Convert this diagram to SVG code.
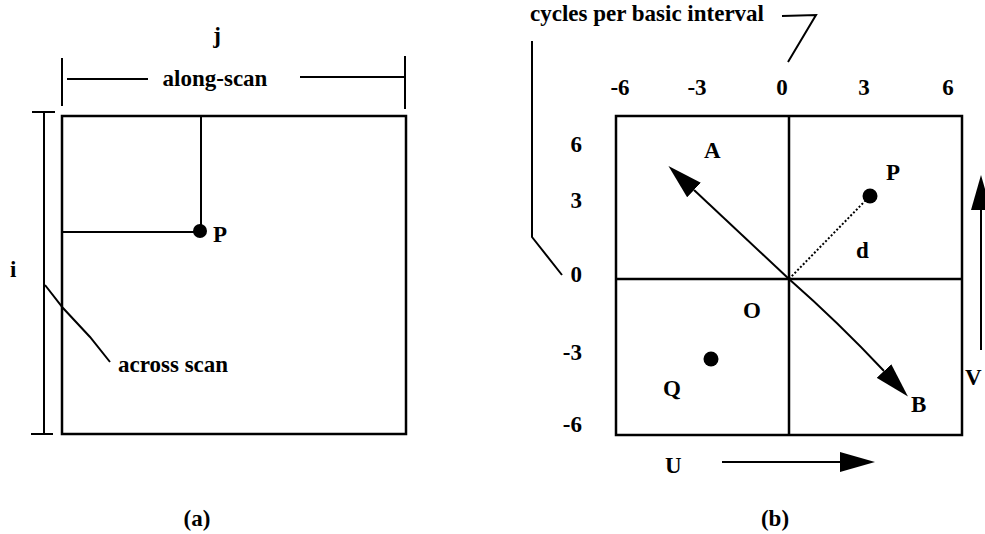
<svg xmlns="http://www.w3.org/2000/svg" width="985" height="534" viewBox="0 0 985 534">
<style>
  text { font-family: "Liberation Serif", "Times New Roman", serif; font-weight: bold; font-size: 23px; fill: #000; }
  .ln { stroke: #000; stroke-width: 2; fill: none; }
  .bx { stroke: #000; stroke-width: 2.5; fill: none; }
  .dot { fill: #000; }
  .mid { text-anchor: middle; }
  .end { text-anchor: end; }
</style>
<defs>
  <marker id="head" viewBox="0 0 35 20" refX="0" refY="10" markerWidth="35" markerHeight="20" markerUnits="userSpaceOnUse" orient="auto">
    <path d="M0,0 L35,10 L0,20 z" fill="#000"/>
  </marker>
</defs>
<rect width="985" height="534" fill="#fff"/>

<!-- Panel (a) -->
<g id="panel-a">
  <rect class="bx" x="62" y="116" width="344" height="318"/>
  <line class="ln" x1="201" y1="116" x2="201" y2="226"/>
  <line class="ln" x1="62" y1="232" x2="196" y2="232"/>
  <circle class="dot" cx="200" cy="231" r="7"/>
  <text x="213" y="242">P</text>
</g>
<g id="dim-j">
  <text class="mid" x="217" y="43">j</text>
  <line class="ln" x1="62" y1="58" x2="62" y2="106"/>
  <line class="ln" x1="405" y1="56" x2="405" y2="109"/>
  <line class="ln" x1="67" y1="79" x2="148" y2="79"/>
  <line class="ln" x1="300" y1="77" x2="405" y2="77"/>
  <text class="mid" x="215" y="86">along-scan</text>
</g>
<g id="dim-i">
  <text x="10" y="277">i</text>
  <line class="ln" x1="32" y1="112" x2="55" y2="112"/>
  <line class="ln" x1="44" y1="112" x2="44" y2="434"/>
  <line class="ln" x1="31" y1="434" x2="53" y2="434"/>
  <text x="118" y="372">across scan</text>
</g>
<text id="label-a" class="mid" x="197" y="526">(a)</text>

<!-- Panel (b) -->
<g id="panel-b">
  <rect class="bx" x="616" y="116" width="346" height="319"/>
  <line class="bx" x1="789" y1="116" x2="789" y2="435"/>
  <line class="bx" x1="616" y1="279" x2="962" y2="279"/>
</g>
<g id="axis-labels">
  <text x="530" y="21">cycles per basic interval</text>
  <text class="mid" x="620" y="95">-6</text>
  <text class="mid" x="697" y="95">-3</text>
  <text class="mid" x="782" y="95">0</text>
  <text class="mid" x="864" y="95">3</text>
  <text class="mid" x="948" y="95">6</text>
  <text class="end" x="582" y="152">6</text>
  <text class="end" x="582" y="208">3</text>
  <text class="end" x="582" y="282">0</text>
  <text class="end" x="582" y="360">-3</text>
  <text class="end" x="582" y="432">-6</text>
</g>
<g id="point-P">
  <circle class="dot" cx="870" cy="196" r="7.5"/>
  <text x="886" y="180">P</text>
</g>
<g id="point-Q">
  <circle class="dot" cx="711" cy="359" r="7.5"/>
  <text x="663" y="396">Q</text>
</g>
<g id="origin-O"><text x="743" y="318">O</text></g>
<g id="label-d"><text x="856" y="258">d</text></g>
<g id="vec-A-label"><text x="704" y="158">A</text></g>
<g id="vec-B-label"><text x="911" y="412">B</text></g>
<g id="axis-U"><text x="665" y="473">U</text></g>
<g id="axis-V"><text x="965" y="385">V</text></g>
<text id="label-b" class="mid" x="775" y="526">(b)</text>

<!-- Connectors -->
<g id="connectors">
  <polyline class="ln" points="782,16 816,15 788,62"/>
  <polyline class="ln" points="45,285 63,308 90,337 110,362"/>
  <polyline class="ln" points="532,41 532,237 562,275"/>
  <line class="ln" x1="789" y1="279" x2="867" y2="199" stroke-dasharray="2,2"/>
  <line class="ln" x1="789" y1="279" x2="694" y2="190" marker-end="url(#head)"/>
  <path class="ln" d="M789,279 Q838,322 884,371" marker-end="url(#head)"/>
  <line class="ln" x1="722" y1="462" x2="840" y2="462" marker-end="url(#head)"/>
  <line class="ln" x1="981" y1="350" x2="981" y2="210" marker-end="url(#head)"/>
</g>
</svg>
